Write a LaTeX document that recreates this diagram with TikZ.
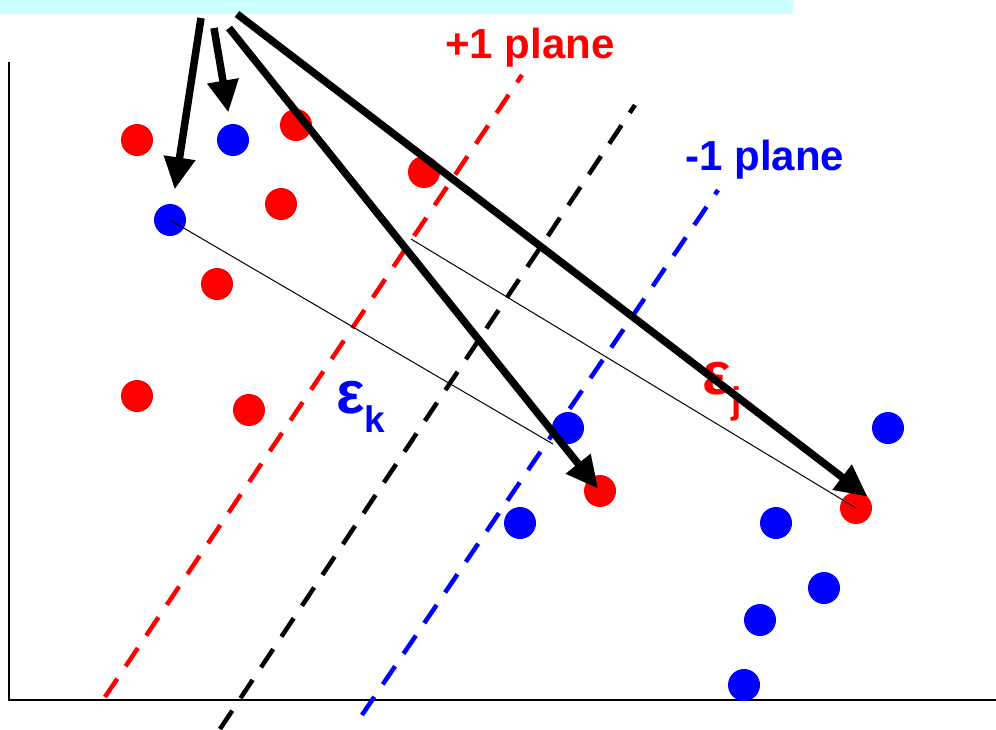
\documentclass[tikz,border=0pt]{standalone}
\usepackage{fontspec}
\setmainfont{Liberation Sans}
\usetikzlibrary{arrows.meta}

\tikzset{
  dot/.style={circle, inner sep=0pt, minimum size=32pt},
  reddot/.style={dot, fill=red},
  bluedot/.style={dot, fill=blue},
  plane/.style={line width=4.5pt, dash pattern=on 22pt off 15pt},
  bigarrow/.style={line width=7.5pt, -{Triangle[length=32pt,width=30pt]}},
  epslabel/.style={font=\fontsize{60}{60}\selectfont\bfseries, inner sep=0pt},
}

\begin{document}
\begin{tikzpicture}[x=1pt, y=-1pt, font=\fontsize{42}{42}\selectfont\bfseries]
\useasboundingbox (0,0) rectangle (996,729);
\fill[fill={rgb,255:red,204;green,255;blue,255}] (0,0) rectangle (793,14);

% axes
\draw[line width=2.5pt] (9,62)--(9,700)--(996,700);

% planes
\draw[plane, red] (105,697)--(522,75);
\draw[plane, black] (220,729)--(635,105);
\draw[plane, blue] (362,715)--(718,190);
\node[red] (pluslabel) at (530,48) {+1 plane};
\node[blue] (minuslabel) at (765,160) {-1 plane};

% points
\foreach \name/\x/\y in {r1/137/140, r2/296/125, r3/424/172, r4/281/204, r5/217/284, r6/137/396, r7/249/410, r8/600/491, r9/856/508}
  \node[reddot] (\name) at (\x,\y) {};
\foreach \name/\x/\y in {b1/233/140, b2/170/220, b3/568/428, b4/520/523, b5/888/428, b6/776/523, b7/824/588, b8/760/620, b9/744/685}
  \node[bluedot] (\name) at (\x,\y) {};

% slack distances
\coordinate (kend) at (553,444);
\coordinate (jstart) at (411,239);
\draw[line width=1pt] (b2.center)--(kend);
\draw[line width=1pt] (jstart)--(r9.center);
\node[blue, epslabel] (epsk) at (361,407) {ε\raisebox{-0.32em}{\fontsize{37}{37}\selectfont k}};
\node[red, epslabel] (epsj) at (722,392) {ε\raisebox{-0.32em}{\fontsize{37}{37}\selectfont j}};

% arrows from the box
\coordinate (s1) at (201,18);
\coordinate (s2) at (214,28);
\coordinate (s3) at (229,28);
\coordinate (s4) at (237,14);
\draw[bigarrow, shorten >=31pt] (s1)--(b2.center);
\draw[bigarrow, shorten >=28pt] (s2)--(b1.center);
\draw[bigarrow, shorten >=3pt] (s3)--(r8.center);
\draw[bigarrow] (s4)--(r9.north east);

\end{tikzpicture}
\end{document}
